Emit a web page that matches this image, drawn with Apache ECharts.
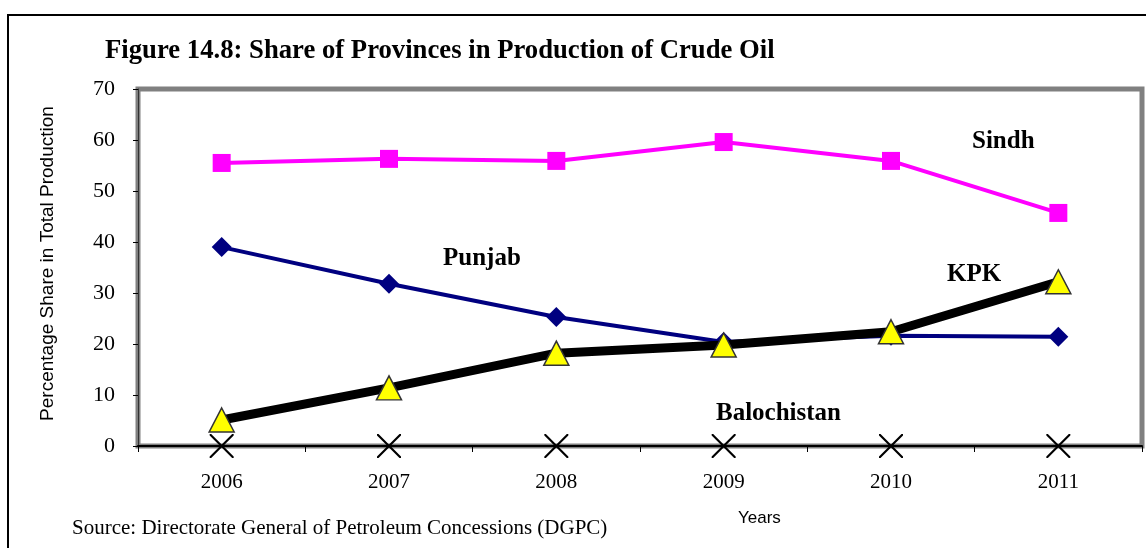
<!DOCTYPE html>
<html>
<head>
<meta charset="utf-8">
<script src="https://cdn.jsdelivr.net/npm/echarts@6/dist/echarts.min.js"></script>
<style>
  html, body { margin: 0; padding: 0; background: #fff; }
  #chart { width: 1146px; height: 548px; }
</style>
</head>
<body>
<div id="chart"></div>
<script>
// data
const years = ["2006", "2007", "2008", "2009", "2010", "2011"];
const sindh = [55.5, 56.3, 55.9, 59.6, 55.9, 45.7];
const punjab = [39.0, 31.8, 25.3, 20.4, 21.6, 21.4];
const kpk = [5.1, 11.4, 18.2, 19.8, 22.4, 32.2];
const balochistan = [0, 0, 0, 0, 0, 0];

const serif = "'Liberation Serif', 'Times New Roman', serif";
const sans = "'Liberation Sans', Arial, sans-serif";

// X shaped marker for Balochistan
const crossPath = "path://M0,0L1.4,0L11,9.6L20.6,0L22,0L22,1.4L12.4,11L22,20.6L22,22L20.6,22L11,12.4L1.4,22L0,22L0,20.6L9.6,11L0,1.4Z";

function label(text, left, top) {
  return {
    type: "text", left: left, top: top,
    style: { text: text, fontFamily: serif, fontWeight: "bold", fontSize: 25, fill: "#000" }
  };
}

const chart = echarts.init(document.getElementById("chart"));
chart.setOption({
  animation: false,
  backgroundColor: "#fff",
  grid: {
    left: 138, right: 4, top: 89, bottom: 102,
    show: true,
    borderColor: "#808080",
    borderWidth: 5,
    backgroundColor: "#fff"
  },
  xAxis: {
    type: "category",
    data: years,
    boundaryGap: true,
    axisLine: { lineStyle: { color: "#000", width: 2 } },
    axisTick: { show: true, length: 6, lineStyle: { color: "#000" } },
    axisLabel: { color: "#000", fontFamily: serif, fontSize: 21, margin: 26 },
    splitLine: { show: false }
  },
  yAxis: {
    type: "value",
    min: 0, max: 70, interval: 10,
    name: "Percentage Share in Total Production",
    nameLocation: "middle",
    nameGap: 81,
    nameTextStyle: { color: "#000", fontFamily: sans, fontSize: 19, padding: [0, 0, 0, 8] },
    axisLine: { show: true, lineStyle: { color: "#333", width: 1 } },
    axisTick: { show: true, length: 5, lineStyle: { color: "#000" } },
    axisLabel: { color: "#000", fontFamily: serif, fontSize: 22, margin: 23 },
    splitLine: { show: false }
  },
  graphic: [
    {
      type: "rect", silent: true, z: -10,
      shape: { x: 8, y: 15, width: 1160, height: 560 },
      style: { fill: "none", stroke: "#000", lineWidth: 2 }
    },
    {
      type: "text", left: 105, top: 38,
      style: { text: "Figure 14.8: Share of Provinces in Production of Crude Oil", fontFamily: serif, fontWeight: "bold", fontSize: 26.7, fill: "#000" }
    },
    label("Sindh", 972, 129),
    label("Punjab", 443, 246),
    label("KPK", 947, 262),
    label("Balochistan", 716, 401),
    { type: "text", left: 738, top: 510, style: { text: "Years", fontFamily: sans, fontSize: 17, fill: "#000" } },
    {
      type: "text", left: 72, top: 518,
      style: { text: "Source: Directorate General of Petroleum Concessions (DGPC)", fontFamily: serif, fontSize: 21, fill: "#000" }
    }
  ],
  series: [
    {
      name: "Punjab", type: "line", data: punjab, z: 3,
      lineStyle: { color: "#000080", width: 4 },
      itemStyle: { color: "#000080" },
      symbol: "diamond", symbolSize: 20
    },
    {
      name: "Sindh", type: "line", data: sindh, z: 3,
      lineStyle: { color: "#FF00FF", width: 4 },
      itemStyle: { color: "#FF00FF" },
      symbol: "rect", symbolSize: 18
    },
    {
      name: "Balochistan", type: "line", data: balochistan, z: 4,
      lineStyle: { width: 0, opacity: 0 },
      itemStyle: { color: "#000" },
      symbol: crossPath, symbolSize: 24
    },
    {
      name: "KPK", type: "line", data: kpk, z: 5,
      lineStyle: { color: "#000", width: 9 },
      itemStyle: { color: "#FFFF00", borderColor: "#333", borderWidth: 1.5 },
      symbol: "triangle", symbolSize: [25, 24]
    }
  ]
});
</script>
</body>
</html>
